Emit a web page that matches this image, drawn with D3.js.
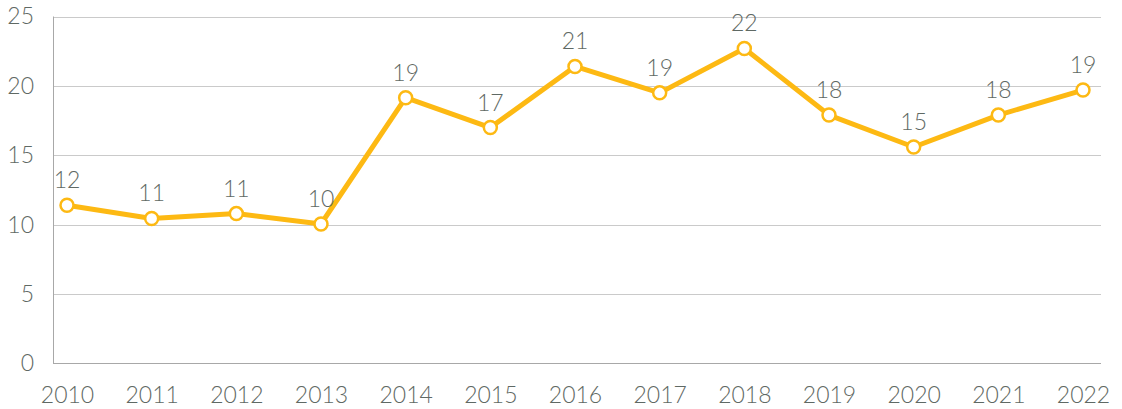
<!DOCTYPE html>
<html>
<head>
<meta charset="utf-8">
<script src="https://cdn.jsdelivr.net/npm/d3@7"></script>
<style>
	body { margin: 0; background: #fff; }
	text { font-family: "Lato", "Open Sans", sans-serif; font-weight: 300; fill: #5f6964; }
</style>
</head>
<body>
<script>
const years = ["2010","2011","2012","2013","2014","2015","2016","2017","2018","2019","2020","2021","2022"];
const values = [11.4, 10.45, 10.8, 10.05, 19.15, 17.0, 21.4, 19.5, 22.7, 17.9, 15.6, 17.9, 19.7];
const pointLabels = ["12","11","11","10","19","17","21","19","22","18","15","18","19"];
const yTicks = [0, 5, 10, 15, 20, 25];

const width = 1122,
	height = 409;

const svg = d3.select("body")
	.append("svg")
	.attr("width", width)
	.attr("height", height);

const plotLeft = 53, plotRight = 1101, plotTop = 16.5, plotBottom = 363.5;

const y = d3.scaleLinear().domain([0, 25]).range([plotBottom, plotTop]);
const x = d3.scalePoint().domain(years).range([67, 1083]);

// gridlines
svg.append("g")
	.selectAll("line")
	.data(yTicks.slice(1))
	.join("line")
	.attr("x1", plotLeft)
	.attr("x2", plotRight)
	.attr("y1", d => Math.round(y(d)) + 0.5)
	.attr("y2", d => Math.round(y(d)) + 0.5)
	.attr("stroke", "#cacaca")
	.attr("stroke-width", 1.2);

// axis lines
svg.append("line")
	.attr("x1", plotLeft + 0.5).attr("x2", plotLeft + 0.5)
	.attr("y1", plotTop).attr("y2", plotBottom)
	.attr("stroke", "#a8a8a8");
svg.append("line")
	.attr("x1", plotLeft).attr("x2", plotRight)
	.attr("y1", plotBottom).attr("y2", plotBottom)
	.attr("stroke", "#a8a8a8");

const yAxis = d3.axisLeft(y).tickValues(yTicks).tickSize(0).tickPadding(19);
svg.append("g")
	.attr("transform", "translate(" + plotLeft + ",0)")
	.call(yAxis)
	.call(g => g.select(".domain").remove())
	.selectAll("text")
	.style("font-size", "23px")
	.attr("fill", null);

const xAxis = d3.axisBottom(x).tickSize(0).tickPadding(23);
svg.append("g")
	.attr("transform", "translate(0," + plotBottom + ")")
	.call(xAxis)
	.call(g => g.select(".domain").remove())
	.selectAll("text")
	.style("font-size", "23px")
	.attr("fill", null);

const line = d3.line()
	.x((d, i) => x(years[i]))
	.y(d => y(d));

svg.append("path")
	.attr("d", line(values))
	.attr("fill", "none")
	.attr("stroke", "#fdb913")
	.attr("stroke-width", 5)
	.attr("stroke-linejoin", "round");

svg.append("g")
	.selectAll("circle")
	.data(values)
	.join("circle")
	.attr("cx", (d, i) => x(years[i]))
	.attr("cy", d => y(d))
	.attr("r", 6.5)
	.attr("fill", "#fff")
	.attr("stroke", "#fdb913")
	.attr("stroke-width", 2.5);

svg.append("g")
	.selectAll("text")
	.data(values)
	.join("text")
	.attr("x", (d, i) => x(years[i]))
	.attr("y", d => y(d) - 17)
	.attr("text-anchor", "middle")
	.style("font-size", "23px")
	.text((d, i) => pointLabels[i]);
</script>
</body>
</html>
